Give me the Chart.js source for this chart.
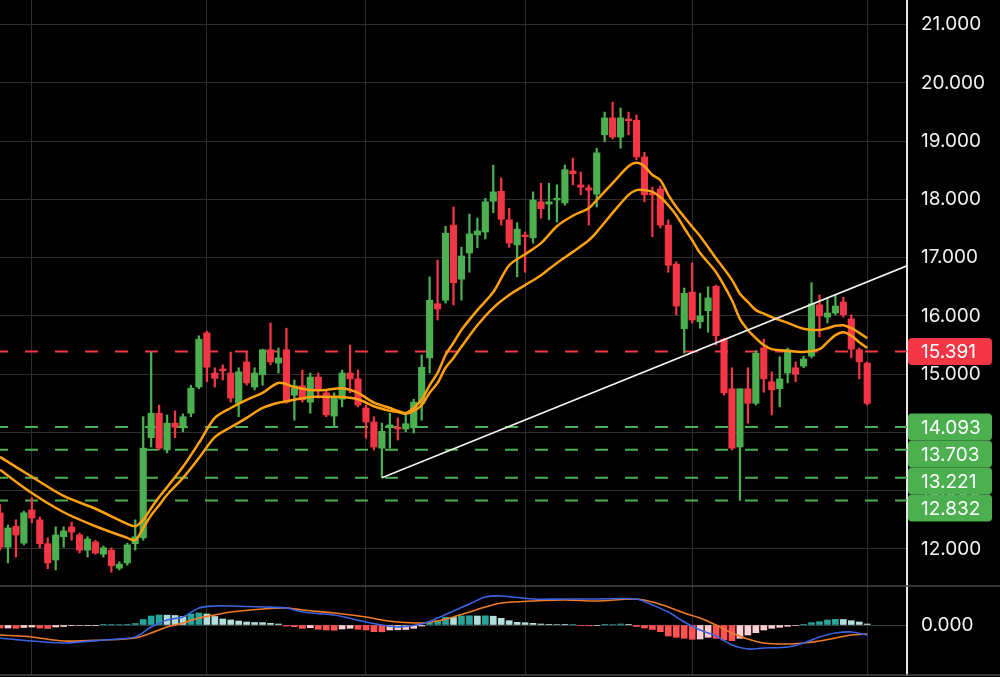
<!DOCTYPE html>
<html>
<head>
<meta charset="utf-8">
<script src="https://cdn.jsdelivr.net/npm/chart.js@4.4.1/dist/chart.umd.min.js"></script>
<style>
  html, body { margin: 0; padding: 0; background: #000; }
  canvas { display: block; }
</style>
</head>
<body>
<canvas id="chart" width="1000" height="677"></canvas>
<script>
// daily candles, index 0 = first visible session
const opens = [12.62,12.03,12.39,12.10,12.67,12.50,12.09,11.81,12.21,12.38,
  12.24,11.98,12.12,11.91,11.98,11.67,11.76,12.09,12.19,13.91,
  14.33,13.70,14.16,14.08,14.33,14.78,15.71,15.02,15.09,15.02,
  14.50,15.21,14.78,14.99,15.42,15.19,15.42,14.64,14.80,14.52,
  14.95,14.68,14.28,14.57,15.02,14.92,14.42,14.18,13.73,14.08,
  14.09,14.06,14.08,14.50,15.28,16.21,16.27,17.56,16.63,17.08,
  17.39,17.44,17.97,18.14,17.65,17.22,17.39,17.34,17.96,17.92,
  17.99,17.94,18.49,18.25,18.20,18.09,19.11,19.40,19.07,19.38,
  19.36,18.73,18.09,18.18,17.56,16.89,15.78,16.41,15.90,16.09,
  16.51,15.60,14.75,13.75,14.75,14.50,15.45,14.87,14.75,15.02,
  15.11,15.14,15.31,16.19,15.98,16.05,16.24,15.95,15.42,15.19];
const closes = [12.03,12.36,12.24,12.62,12.53,12.09,11.76,12.24,12.31,12.29,
  11.98,12.17,11.93,12.02,11.71,11.74,12.07,12.21,13.73,14.33,
  13.73,14.16,14.09,14.27,14.76,15.60,15.12,14.93,15.06,14.59,
  15.04,14.85,15.02,15.42,15.21,15.28,14.52,14.80,14.56,14.95,
  14.73,14.30,14.59,15.02,14.92,14.47,14.18,13.75,14.02,14.13,
  14.06,14.15,14.52,15.12,16.27,16.12,17.42,16.57,17.03,17.41,
  17.46,17.96,18.13,17.66,17.25,17.49,17.36,17.99,17.84,17.96,
  18.02,18.51,18.44,18.21,18.16,18.80,19.40,19.07,19.40,19.35,
  18.73,18.08,18.08,17.56,16.87,16.17,16.39,15.93,16.00,16.31,
  15.66,14.68,13.73,14.75,14.50,15.36,14.92,14.73,14.92,15.42,
  15.00,15.26,16.21,16.00,16.05,16.17,16.02,15.43,15.21,14.50];
const highs = [12.76,12.41,12.50,12.65,12.88,12.55,12.19,12.38,12.38,12.46,
  12.27,12.21,12.15,12.05,12.02,11.78,12.10,12.50,14.27,15.38,
  14.47,14.30,14.37,14.32,14.81,15.66,15.74,15.11,15.16,15.38,
  15.11,15.38,15.11,15.43,15.88,15.45,15.79,14.90,15.07,15.02,
  15.02,14.73,14.68,15.07,15.50,15.07,14.47,14.27,14.16,14.33,
  14.25,14.35,14.57,15.33,16.67,16.96,17.54,17.87,17.18,17.75,
  17.68,18.02,18.59,18.37,17.85,17.60,17.44,18.13,18.28,18.28,
  18.25,18.59,18.71,18.47,18.25,18.88,19.50,19.67,19.57,19.50,
  19.45,18.81,18.21,18.23,17.65,16.93,16.48,16.91,16.39,16.50,
  16.53,15.62,15.11,14.75,15.11,15.40,15.60,15.04,15.30,15.45,
  15.21,15.31,16.57,16.36,16.31,16.36,16.32,16.02,15.45,15.21];
const lows = [11.98,11.76,11.86,12.07,12.45,12.02,11.66,11.64,12.03,12.15,
  11.93,11.86,11.91,11.86,11.60,11.64,11.72,11.98,12.15,13.75,
  13.70,13.65,13.91,14.01,14.27,14.75,14.87,14.78,14.90,14.52,
  14.27,14.81,14.73,14.81,15.16,15.02,14.50,14.21,14.52,14.33,
  14.59,14.27,14.09,14.44,14.68,14.44,13.90,13.70,13.221,13.73,
  13.87,14.01,13.99,14.21,15.02,15.93,16.22,16.19,16.27,16.75,
  17.17,17.32,17.77,17.56,17.18,16.67,16.75,17.25,17.68,17.65,
  17.61,17.90,18.25,18.08,17.56,17.87,18.99,19.04,18.88,19.11,
  18.68,17.96,17.36,17.51,16.75,16.02,15.36,15.88,15.79,15.72,
  15.50,14.64,13.70,12.832,14.16,14.47,14.69,14.30,14.44,14.85,
  14.87,15.11,15.28,15.64,15.88,16.02,15.98,15.28,14.92,14.47];

// moving averages at these sessions
const maIndex = [0,4,8,12,16,17,18,19,20,21,23,25,27,29,31,33,35,37,39,41,43,45,47,49,50,
  51,52,53,54,55,56,57,58,60,62,64,66,68,70,72,74,75,77,79,80,81,82,83,84,85,
  86,87,88,90,92,93,94,95,96,97,99,101,103,104,105,106,107,108,109];
const maUpper = [13.58,13.24,12.91,12.69,12.43,12.39,12.50,12.70,12.89,13.06,13.41,13.82,14.25,14.42,14.56,14.68,14.85,14.78,14.73,14.73,14.76,14.68,14.51,14.42,14.37,
  14.33,14.42,14.56,14.81,15.02,15.33,15.54,15.76,16.10,16.41,16.87,17.06,17.25,17.54,17.72,17.85,17.99,18.28,18.57,18.63,18.57,18.42,18.33,18.08,17.87,
  17.70,17.53,17.37,16.99,16.62,16.38,16.24,16.10,16.04,15.98,15.88,15.78,15.76,15.79,15.83,15.84,15.79,15.71,15.62];
const maLower = [13.36,12.96,12.63,12.39,12.19,12.15,12.36,12.58,12.75,12.93,13.22,13.56,13.92,14.09,14.25,14.42,14.51,14.56,14.61,14.61,14.61,14.57,14.45,14.37,14.35,
  14.32,14.37,14.47,14.68,14.85,15.11,15.28,15.47,15.84,16.14,16.36,16.53,16.70,16.91,17.10,17.30,17.44,17.77,18.08,18.16,18.16,18.13,18.04,17.90,17.73,
  17.51,17.30,17.08,16.75,16.27,15.95,15.76,15.62,15.50,15.43,15.40,15.38,15.43,15.55,15.67,15.72,15.66,15.55,15.45];

// MACD panel
const macdIndex = [0,4,8,13,17,19,21,23,25,27,29,33,36,38,42,46,48,50,53,55,57,59,61,63,67,71,75,80,
  82,84,86,88,90,92,94,96,99,101,103,105,107,109];
const macdLine = [-0.13,-0.16,-0.18,-0.15,-0.12,-0.02,0.05,0.08,0.17,0.19,0.19,0.18,0.17,0.13,0.10,0.03,0.00,-0.02,0.01,0.07,0.14,0.21,0.28,0.29,0.26,0.26,0.26,0.26,
  0.20,0.13,0.03,-0.05,-0.11,-0.20,-0.24,-0.23,-0.22,-0.18,-0.12,-0.08,-0.07,-0.10];
const signalLine = [-0.10,-0.12,-0.16,-0.15,-0.13,-0.08,-0.02,0.02,0.07,0.10,0.13,0.16,0.17,0.15,0.12,0.08,0.05,0.03,0.02,0.04,0.08,0.13,0.18,0.22,0.24,0.25,0.24,0.26,
  0.23,0.18,0.12,0.07,0.00,-0.08,-0.14,-0.18,-0.19,-0.18,-0.16,-0.13,-0.10,-0.09];
const histogram = [-0.03,-0.03,-0.033,-0.025,-0.02,-0.03,-0.035,-0.02,-0.015,-0.007,
  -0.005,-0.004,-0.003,0.003,0.004,0.005,0.007,0.015,0.055,0.09,
  0.10,0.098,0.095,0.085,0.11,0.12,0.11,0.085,0.06,0.05,
  0.04,0.03,0.025,0.024,0.017,0.01,-0.01,-0.017,-0.033,-0.027,
  -0.043,-0.05,-0.052,-0.04,-0.033,-0.043,-0.05,-0.067,-0.068,-0.05,
  -0.048,-0.045,-0.033,-0.01,0.023,0.043,0.077,0.075,0.09,0.092,
  0.09,0.092,0.088,0.067,0.043,0.027,0.023,0.017,0.01,0.007,
  0.005,0.003,0.004,-0.007,-0.008,-0.005,0.003,0.005,0.01,0.007,
  -0.015,-0.03,-0.045,-0.067,-0.11,-0.123,-0.133,-0.143,-0.14,-0.123,
  -0.133,-0.15,-0.157,-0.133,-0.10,-0.077,-0.05,-0.033,-0.023,-0.013,
  -0.005,0.003,0.023,0.033,0.05,0.057,0.055,0.043,0.03,0.01];

// drawings
const resistance = 15.391;
const supports = [14.093, 13.703, 13.221, 12.832];
const trendIndex = [48, 114];
const trendPrice = [13.221, 16.86];

const priceTicks = [12, 13, 14, 15, 16, 17, 18, 19, 20, 21];
const monthStarts = [4, 26, 46, 66, 87, 109];
const lastIndex = 114;

const GREEN = '#4caf50';
const RED = '#f23645';
const GRID = '#2e2e2e';
const FONT = { family: 'Inter, "Noto Sans", sans-serif', size: 19 };

const isUp = i => closes[i] >= opens[i];
const candleColor = ctx => isUp(ctx.dataIndex) ? GREEN : RED;
const histColor = ctx => {
  const i = ctx.dataIndex;
  const v = histogram[i];
  const prev = i > 0 ? histogram[i - 1] : 0;
  if (v >= 0) return v >= prev ? '#26a69a' : '#b2dfdb';
  return v < prev ? '#ff5252' : '#ffcdd2';
};

const flatLine = (price, color) => ({
  type: 'line',
  data: [{ x: 0, y: price }, { x: lastIndex, y: price }],
  borderColor: color,
  borderWidth: 2,
  borderDash: [13, 17],
  borderDashOffset: 5,
  pointRadius: 0,
  order: 6
});

// right axis: fixed width, no extra room reserved for half labels
const fitAxis = s => {
  s.width = 93;
  s.paddingTop = 0;
  s.paddingBottom = 0;
};

const tagPlugin = {
  id: 'tags',
  beforeDraw(chart) {
    const { ctx } = chart;
    ctx.save();
    ctx.fillStyle = '#000';
    ctx.fillRect(0, 0, chart.width, chart.height);
    ctx.restore();
  },
  afterDraw(chart) {
    const { ctx, scales: { y, y2 } } = chart;
    ctx.save();
    // panel separators
    ctx.strokeStyle = '#474747';
    ctx.lineWidth = 1.5;
    [y2.top, y2.bottom].forEach(py => {
      ctx.beginPath();
      ctx.moveTo(0, py);
      ctx.lineTo(chart.width, py);
      ctx.stroke();
    });

    const h = 27;
    const drawTag = (price, yc, color) => {
      ctx.fillStyle = color;
      ctx.beginPath();
      ctx.roundRect(y.left + 1, yc - h / 2, 84, h, 4);
      ctx.fill();
      ctx.fillStyle = '#fff';
      ctx.font = FONT.size + 'px ' + FONT.family;
      ctx.textAlign = 'left';
      ctx.textBaseline = 'middle';
      ctx.fillText(price.toFixed(3), y.left + 14, yc + 1);
    };
    drawTag(resistance, y.getPixelForValue(resistance), RED);
    // stack the support tags so they don't overlap
    let last = -Infinity;
    supports.forEach(p => {
      const yc = Math.max(y.getPixelForValue(p), last + h);
      drawTag(p, yc, GREEN);
      last = yc;
    });
    ctx.restore();
  }
};

new Chart(document.getElementById('chart'), {
  type: 'bar',
  data: {
    datasets: [
      {
        label: 'wicks',
        data: opens.map((o, i) => ({ x: i, y: [lows[i], highs[i]] })),
        backgroundColor: candleColor,
        grouped: false,
        barThickness: 1.6,
        maxBarThickness: 1.6,
        minBarLength: 1,
        order: 5
      },
      {
        label: 'bodies',
        data: opens.map((o, i) => ({ x: i, y: [o, closes[i]] })),
        backgroundColor: candleColor,
        grouped: false,
        barThickness: 6.5,
        maxBarThickness: 6.5,
        minBarLength: 1.5,
        order: 4
      },
      flatLine(resistance, RED),
      ...supports.map(p => flatLine(p, GREEN)),
      {
        type: 'line',
        label: 'trend',
        data: trendIndex.map((x, i) => ({ x, y: trendPrice[i] })),
        borderColor: '#f2f2f2',
        borderWidth: 1.6,
        pointRadius: 0,
        order: 0
      },
      {
        type: 'line',
        label: 'MA fast',
        data: maIndex.map((x, i) => ({ x, y: maUpper[i] })),
        borderColor: '#ffa010',
        borderWidth: 2.5,
        pointRadius: 0,
        tension: 0.3,
        order: 1
      },
      {
        type: 'line',
        label: 'MA slow',
        data: maIndex.map((x, i) => ({ x, y: maLower[i] })),
        borderColor: '#ffa010',
        borderWidth: 2.5,
        pointRadius: 0,
        tension: 0.3,
        order: 1
      },
      {
        label: 'hist',
        yAxisID: 'y2',
        data: histogram.map((v, i) => ({ x: i, y: v })),
        backgroundColor: histColor,
        grouped: false,
        barThickness: 6,
        maxBarThickness: 6,
        order: 4
      },
      {
        type: 'line',
        label: 'MACD',
        yAxisID: 'y2',
        data: macdIndex.map((x, i) => ({ x, y: macdLine[i] })),
        borderColor: '#3d63e0',
        borderWidth: 1.6,
        pointRadius: 0,
        tension: 0.3,
        order: 2
      },
      {
        type: 'line',
        label: 'Signal',
        yAxisID: 'y2',
        data: macdIndex.map((x, i) => ({ x, y: signalLine[i] })),
        borderColor: '#f07c28',
        borderWidth: 1.6,
        pointRadius: 0,
        tension: 0.3,
        order: 2
      }
    ]
  },
  options: {
    responsive: false,
    animation: false,
    devicePixelRatio: 1,
    layout: { padding: { top: 0, left: 0, right: 0, bottom: 2 } },
    plugins: { legend: { display: false }, tooltip: { enabled: false } },
    scales: {
      x: {
        type: 'linear',
        min: 0,
        max: lastIndex,
        offset: false,
        afterBuildTicks: s => { s.ticks = monthStarts.map(v => ({ value: v })); },
        ticks: { display: false },
        grid: { color: GRID, drawTicks: false, offset: false },
        border: { display: false }
      },
      y: {
        position: 'right',
        stack: 'panes',
        stackWeight: 586,
        weight: 0,
        min: 11.364,
        max: 21.424,
        afterBuildTicks: s => { s.ticks = priceTicks.map(v => ({ value: v })); },
        afterFit: fitAxis,
        ticks: {
          color: '#f2f2f2',
          font: FONT,
          padding: 14,
          crossAlign: 'near',
          callback: v => v.toFixed(3)
        },
        grid: { color: GRID, drawTicks: false },
        border: { color: '#e6e6e6', width: 2 }
      },
      y2: {
        position: 'right',
        stack: 'panes',
        stackWeight: 89,
        weight: 1,
        min: -0.5,
        max: 0.39,
        afterBuildTicks: s => { s.ticks = [{ value: 0 }]; },
        afterFit: fitAxis,
        ticks: {
          color: '#f2f2f2',
          font: FONT,
          padding: 14,
          crossAlign: 'near',
          callback: v => v.toFixed(3)
        },
        grid: { color: '#3a3a3a', drawTicks: false },
        border: { color: '#e6e6e6', width: 2 }
      }
    }
  },
  plugins: [tagPlugin]
});
</script>
</body>
</html>
